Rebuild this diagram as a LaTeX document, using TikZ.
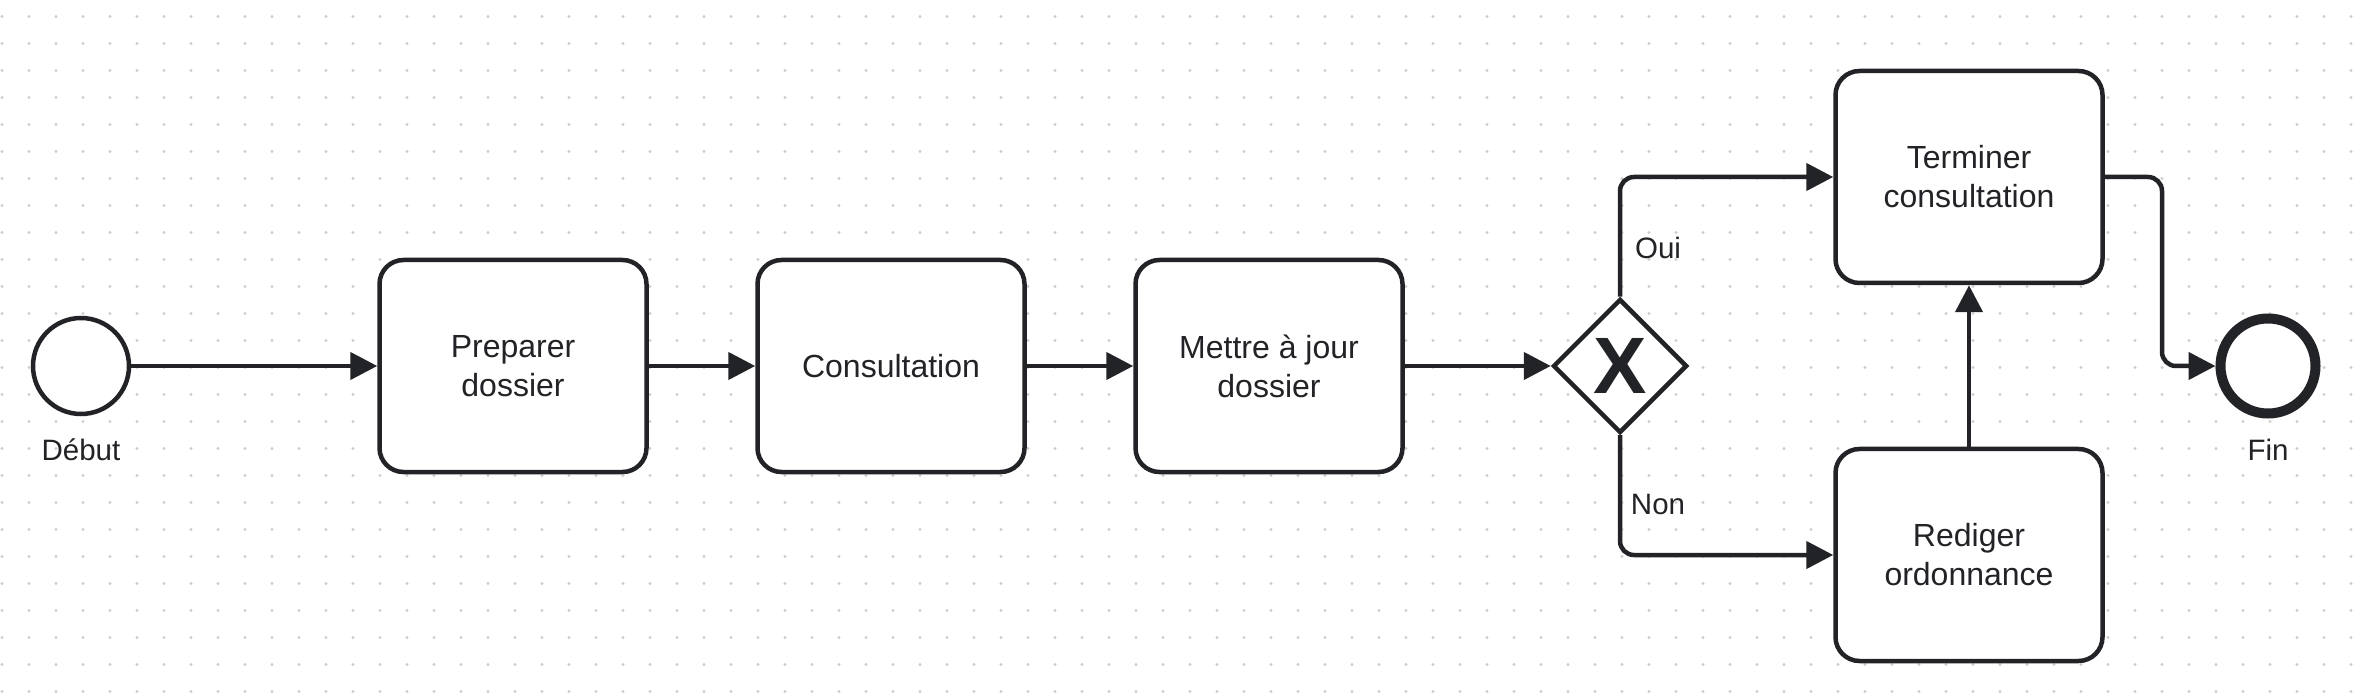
\documentclass[tikz,border=0pt]{standalone}
\usepackage{fontspec}
\setmainfont{Liberation Sans}
\usetikzlibrary{shapes.geometric,arrows.meta}
\definecolor{ink}{RGB}{34,35,38}
\definecolor{dotc}{RGB}{205,205,205}
\tikzset{
  task/.style={draw=ink,line width=4.5pt,fill=white,rounded corners=24pt,minimum width=267pt,minimum height=212pt,align=center,font=\fontsize{32}{39}\selectfont,text=ink,inner sep=0pt},
  startev/.style={circle,draw=ink,line width=4.5pt,fill=white,minimum size=96pt,inner sep=0pt},
  endev/.style={circle,draw=ink,line width=10pt,fill=white,minimum size=95pt,inner sep=0pt},
  gate/.style={diamond,draw=ink,line width=4.5pt,fill=white,minimum width=134pt,minimum height=134pt,inner sep=0pt,text=ink,font=\fontsize{80}{80}\selectfont\bfseries},
  lbl/.style={text=ink,font=\fontsize{29.5}{35}\selectfont,inner sep=0pt},
  flow/.style={draw=ink,line width=4.5pt,rounded corners=14pt,-{Triangle[length=27pt,width=27pt]}},
}
\begin{document}
\begin{tikzpicture}[x=1pt,y=-1pt]
\useasboundingbox[fill=white] (0,0) rectangle (2362,700);
\foreach \i in {0,...,87}{\foreach \j in {0,...,25}{\fill[dotc] (2+27*\i,16.5+27*\j) circle (1.6pt);}}
\node[startev] (s) at (81,366) {};
\node[lbl] (sl) at (81,450) {Début};
\node[task] (p) at (513,366) {Preparer\\dossier};
\node[task] (c) at (891,366) {Consultation};
\node[task] (m) at (1269,366) {Mettre à jour\\dossier};
\node[gate] (g) at (1620,366) {X};
\node[task] (t) at (1969,177) {Terminer\\consultation};
\node[task] (r) at (1969,555) {Rediger\\ordonnance};
\node[endev] (e) at (2268,366) {};
\node[lbl] (el) at (2268,450) {Fin};
\coordinate (k) at (2162,177);
\draw[flow] (s) -- (p);
\draw[flow] (p) -- (c);
\draw[flow] (c) -- (m);
\draw[flow] (m) -- (g);
\draw[flow] (g.north) |- (t.west);
\draw[flow] (g.south) |- (r.west);
\draw[flow] (r) -- (t);
\draw[flow] (t.east) -- (k) |- (e.west);
\node[lbl] (oui) at (1658,248) {Oui};
\node[lbl] (non) at (1658,504) {Non};
\end{tikzpicture}
\end{document}
